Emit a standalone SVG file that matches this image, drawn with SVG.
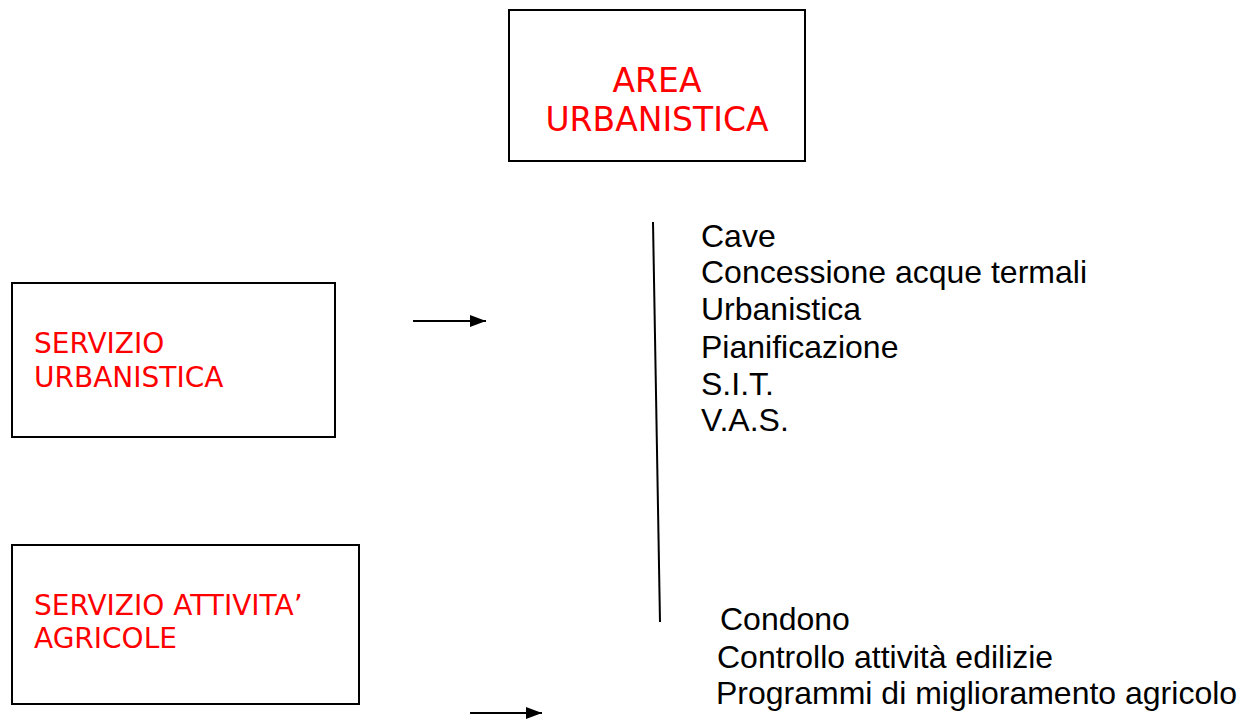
<svg xmlns="http://www.w3.org/2000/svg" width="1245" height="720" viewBox="0 0 1245 720">
<style>
.box{fill:#fff;stroke:#000;stroke-width:2}
.red{fill:#ff0000;font-family:"DejaVu Sans",Verdana,sans-serif}
.blk{fill:#000;font-family:"Liberation Sans",Arial,sans-serif;font-size:32px}
.ln{stroke:#000;stroke-width:2;fill:none}
</style>
<defs>
<marker id="ah" markerWidth="16" markerHeight="14" refX="16" refY="7" orient="auto" markerUnits="userSpaceOnUse">
<path d="M0,1 L16,7 L0,13 Z" fill="#000"/>
</marker>
</defs>
<rect width="1245" height="720" fill="#fff"/>
<g id="area-urbanistica">
<rect class="box" x="509" y="10" width="296" height="151"/>
<text class="red" font-size="33" text-anchor="middle" x="657" y="92">AREA</text>
<text class="red" font-size="33" text-anchor="middle" x="657" y="131">URBANISTICA</text>
</g>
<g id="servizio-urbanistica">
<rect class="box" x="12" y="283" width="323" height="154"/>
<text class="red" font-size="28" x="34" y="353">SERVIZIO</text>
<text class="red" font-size="28" x="34" y="387">URBANISTICA</text>
</g>
<g id="servizio-attivita">
<rect class="box" x="12" y="545" width="347" height="159"/>
<text class="red" font-size="28" x="34" y="615">SERVIZIO ATTIVITA’</text>
<text class="red" font-size="28" x="34" y="648">AGRICOLE</text>
</g>
<g id="list-urbanistica">
<text class="blk" x="701" y="247">Cave</text>
<text class="blk" x="701" y="283">Concessione acque termali</text>
<text class="blk" x="701" y="320">Urbanistica</text>
<text class="blk" x="701" y="358">Pianificazione</text>
<text class="blk" x="701" y="395">S.I.T.</text>
<text class="blk" x="701" y="431">V.A.S.</text>
</g>
<g id="list-agricole">
<text class="blk" x="720" y="630">Condono</text>
<text class="blk" x="717" y="668">Controllo attività edilizie</text>
<text class="blk" x="716" y="704">Programmi di miglioramento agricolo</text>
</g>
<g id="connectors">
<line class="ln" x1="653" y1="222" x2="660" y2="622"/>
<line class="ln" x1="413" y1="321" x2="486" y2="321" marker-end="url(#ah)"/>
<line class="ln" x1="470" y1="713" x2="542" y2="713" marker-end="url(#ah)"/>
</g>
</svg>
